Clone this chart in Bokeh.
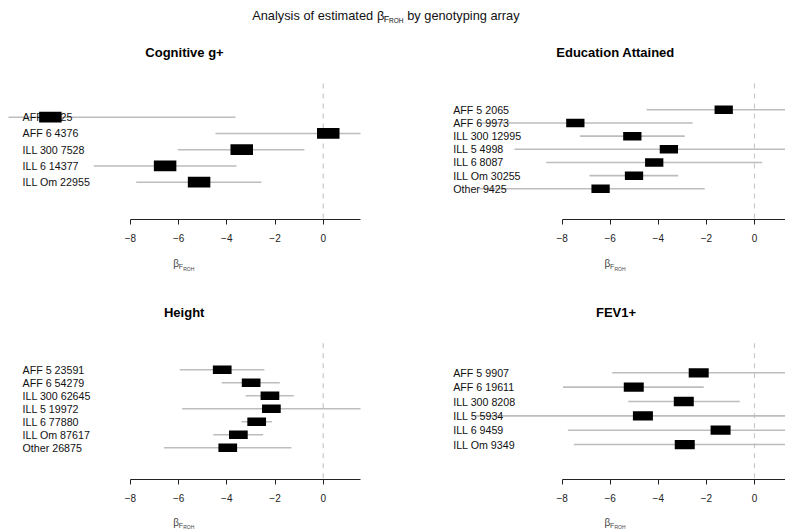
from bokeh.plotting import figure
from bokeh.models import Range1d, FixedTicker, CustomJSTickFormatter
from bokeh.layouts import column, row
from bokeh.core.properties import value
from bokeh.embed import file_html
from bokeh.resources import INLINE

FONT = "Liberation Sans"

# ---- estimates of beta_FROH with confidence limits, per genotyping array ----
cog_labels = ["AFF 5 425", "AFF 6 4376", "ILL 300 7528", "ILL 6 14377", "ILL Om 22955"]
cog_est = [-11.32, 0.21, -3.38, -6.56, -5.15]
cog_lo = [-13.06, -4.47, -6.03, -9.52, -7.76]
cog_hi = [-3.64, 2.10, -0.78, -3.60, -2.56]

edu_labels = ["AFF 5 2065", "AFF 6 9973", "ILL 300 12995", "ILL 5 4998",
              "ILL 6 8087", "ILL Om 30255", "Other 9425"]
edu_est = [-1.28, -7.45, -5.08, -3.56, -4.17, -5.01, -6.40]
edu_lo = [-4.49, -11.50, -7.26, -9.98, -8.66, -6.86, -11.45]
edu_hi = [1.90, -2.57, -2.90, 2.20, 0.32, -3.17, -2.07]

hgt_labels = ["AFF 5 23591", "AFF 6 54279", "ILL 300 62645", "ILL 5 19972",
              "ILL 6 77880", "ILL Om 87617", "Other 26875"]
hgt_est = [-4.19, -2.99, -2.21, -2.15, -2.76, -3.52, -3.96]
hgt_lo = [-5.95, -4.21, -3.22, -5.85, -3.39, -4.56, -6.61]
hgt_hi = [-2.44, -1.80, -1.22, 1.90, -2.12, -2.49, -1.32]

fev_labels = ["AFF 5 9907", "AFF 6 19611", "ILL 300 8208", "ILL 5 5934",
              "ILL 6 9459", "ILL Om 9349"]
fev_est = [-2.32, -5.02, -2.94, -4.64, -1.41, -2.90]
fev_lo = [-5.92, -7.96, -5.25, -11.60, -7.76, -7.51]
fev_hi = [2.00, -2.11, -0.61, 2.30, 1.80, 1.70]

x_ticks = [-8, -6, -4, -2, 0]

AXIS_BAND = 30  # room under each frame for ticks and tick labels


def make_panel(title, labels, est, lo, hi, g):
    w = g["width"]
    zero, unit, fr = g["zero"], g["unit"], g["frame_right"]
    first, step, axis_y = g["first"], g["step"], g["axis"]
    h = axis_y + AXIS_BAND

    def xd(px):
        return (px - zero) / unit

    def yd(px):
        return (px - first) / step

    x_end = xd(fr)
    p = figure(width=w, height=h, output_backend="svg", toolbar_location=None,
               tools="", x_range=Range1d(xd(0), x_end),
               y_range=Range1d(yd(axis_y), yd(0)), y_axis_location=None,
               min_border_left=0, min_border_right=w - fr,
               min_border_top=0, min_border_bottom=AXIS_BAND)
    p.outline_line_color = None
    p.background_fill_color = "white"
    p.border_fill_color = "white"
    p.grid.visible = False

    n = len(labels)
    idx = list(range(n))

    # reference line at zero
    p.segment(x0=[0], y0=[yd(g["dash"])], x1=[0], y1=[yd(axis_y)],
              line_color="#c8c8c8", line_width=1.2, line_dash="5 5")
    # confidence intervals
    p.segment(x0=lo, y0=idx, x1=hi, y1=idx, line_color="#bdbdbd", line_width=1.6)
    # row labels
    p.text(x=[xd(g["label"])] * n, y=idx, text=labels,
           text_font=value(FONT), text_font_size=value("10.7px"),
           text_align="left", text_baseline="middle", text_color="#111111")
    # point estimates
    p.rect(x=est, y=idx, width=g["box"][0], height=g["box"][1],
           width_units="screen", height_units="screen",
           fill_color="black", line_color=None)
    # panel title
    tx, ty = g["title"]
    p.text(x=[xd(tx)], y=[yd(ty)], text=[title], text_font=value(FONT),
           text_font_size=value("13px"), text_font_style="bold",
           text_align="center", text_baseline="middle", text_color="black")

    ax = p.xaxis[0]
    ax.ticker = FixedTicker(ticks=x_ticks)
    ax.bounds = (-8, x_end)
    ax.formatter = CustomJSTickFormatter(
        code="return tick < 0 ? '\\u2212' + Math.abs(tick) : String(tick);")
    ax.minor_tick_line_color = None
    ax.major_tick_in = 0
    ax.major_tick_out = 5
    ax.axis_line_color = "#222222"
    ax.major_tick_line_color = "#222222"
    ax.major_label_text_font = FONT
    ax.major_label_text_font_size = "10px"
    ax.major_label_text_color = "#222222"
    ax.major_label_standoff = 9
    return p


def make_strip(width, height, pieces):
    """A plain text strip; coordinates are pixels from its top-left corner."""
    s = figure(width=width, height=height, output_backend="svg",
               toolbar_location=None, tools="",
               x_range=Range1d(0, width), y_range=Range1d(height, 0),
               x_axis_location=None, y_axis_location=None,
               min_border=0, min_border_left=0, min_border_right=0,
               min_border_top=0, min_border_bottom=0)
    s.outline_line_color = None
    s.grid.visible = False
    for txt, x, y, size, color in pieces:
        s.text(x=[x], y=[y], text=[txt], text_font=value(FONT),
               text_font_size=value(size), text_align="left",
               text_baseline="middle", text_color=color)
    return s


def beta_froh(cx, cy):
    """Pieces of the axis title beta with subscript F and sub-subscript ROH."""
    return [("β", cx - 9.5, cy, "10px", "#444444"),
            ("F", cx - 4.0, cy + 3, "7px", "#444444"),
            ("ROH", cx + 0.5, cy + 5, "5px", "#444444")]


left_top = dict(width=392, zero=322.7, unit=24.1, frame_right=360,
                first=88.7, step=16.25, axis=191, title=(184, 24), dash=55,
                label=22, box=(22.5, 10.7))
right_top = dict(width=393, zero=362, unit=24.05, frame_right=393,
                 first=81.3, step=13.17, axis=191, title=(223, 24), dash=55,
                 label=60.7, box=(18.3, 8.5))
left_bot = dict(width=392, zero=322.7, unit=24.1, frame_right=360,
                first=98.3, step=13.0, axis=208, title=(183.7, 40.7), dash=71.7,
                label=22, box=(18.7, 8.5))
right_bot = dict(width=393, zero=362, unit=24.05, frame_right=393,
                 first=101.3, step=14.35, axis=208, title=(223.5, 40.7), dash=71.7,
                 label=60.7, box=(20, 9.3))

p1 = make_panel("Cognitive g+", cog_labels, cog_est, cog_lo, cog_hi, left_top)
p2 = make_panel("Education Attained", edu_labels, edu_est, edu_lo, edu_hi, right_top)
p3 = make_panel("Height", hgt_labels, hgt_est, hgt_lo, hgt_hi, left_bot)
p4 = make_panel("FEV1+", fev_labels, fev_est, fev_lo, fev_hi, right_bot)

# overall heading
head = make_strip(785, 28, [("Analysis of estimated", 251.7, 15, "12.8px", "#111111"),
                            ("β", 376.5, 15, "12.8px", "#111111"),
                            ("F", 383.3, 18, "9px", "#111111"),
                            ("ROH", 388.6, 20, "6.5px", "#111111"),
                            ("by genotyping array", 406.7, 15, "12.8px", "#111111")])

# axis titles under each row of panels
xlab_top = make_strip(785, 243 - (191 + AXIS_BAND),
                      beta_froh(182.2, 14.3) + beta_froh(613.5, 14.3))
xlab_bot = make_strip(785, 260 - (208 + AXIS_BAND),
                      beta_froh(182.2, 12.7) + beta_froh(613.5, 12.7))

layout = column(head, row(p1, p2), xlab_top, row(p3, p4), xlab_bot)
open("out.html", "w").write(file_html(layout, INLINE))
